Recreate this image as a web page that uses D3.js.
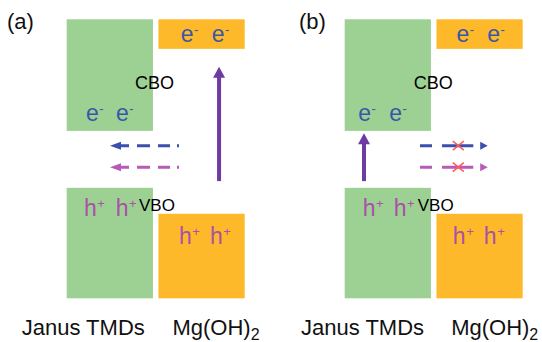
<!DOCTYPE html>
<html><head><meta charset="utf-8">
<script src="https://cdn.jsdelivr.net/npm/d3@7"></script>
<style>body{margin:0;background:#fff} svg{display:block}</style>
</head><body><svg id="c" width="542" height="342"></svg>
<script>
// ---- data ----
const panels = ["(a)", "(b)"];
const materials = ["Janus TMDs", "Mg(OH)2"];
// band edges, energy units (0 = bottom, 100 = top of diagram)
const cbTop    = [100, 100];
const cbBottom = [60, 89.4];
const vbTop    = [39.6, 30.3];
const vbBottom = [0, 0];
// excitation arrow per panel: [material index, from, to]
const excitation = [[1, 42, 83], [0, 42, 59.2]];
// interfacial transfer levels (electron, hole)
const transferLevels = [54.7, 47];
const transferAllowed = [true, false]; // (a) transfer to TMD, (b) blocked
const offsetLabels = ["CBO", "VBO"];

// ---- layout ----
const svg = d3.select("#c");
const y = d3.scaleLinear().domain([0, 100]).range([298.3, 19.3]);
const xp = d3.scaleBand().domain(panels).range([66.7, 522.7]).paddingInner(0.3597);
const xm = d3.scaleBand().domain(materials).range([0, xp.bandwidth()]).paddingInner(0.06);

const COL = {green:"#9dd194", orange:"#fdb92a", eText:"#3a56a8", hText:"#aa50a8",
  purple:"#6e3aa3", blue:"#3b50ad", magenta:"#b85ab6", red:"#ff5a5a"};
const fillFor = [COL.green, COL.orange];
const FONT = "Liberation Sans, Arial, sans-serif";

// per-panel fine offsets
const eDx = [[[19.3, 49.3], [22.3, 53.3]], [[13.6, 44.6], [20, 50.7]]];
const hDx = [[[17.3, 49], [20.6, 51.6]], [[18, 49], [16.4, 47.4]]];
const eLevel = [63.5, 91.7];
const hLevel = [29.5, 19.5];
const labelDx = [[-45, 14], [-43.7, 14.7]];
const cboDx = [68.3, 69], vboDx = [72.3, 73];
const cboLevel = 75, vboLevel = 31.3;
const arrowDx = [60.6, 19.3];

panels.forEach((p, pi) => {
  const g = svg.append("g").attr("transform", `translate(${xp(p)},0)`);
  materials.forEach((m, mi) => {
    g.append("rect").attr("x", xm(m)).attr("width", xm.bandwidth())
      .attr("y", y(cbTop[mi])).attr("height", y(cbBottom[mi]) - y(cbTop[mi]))
      .attr("fill", fillFor[mi]);
    g.append("rect").attr("x", xm(m)).attr("width", xm.bandwidth())
      .attr("y", y(vbTop[mi])).attr("height", y(vbBottom[mi]) - y(vbTop[mi]))
      .attr("fill", fillFor[mi]);
    eDx[pi][mi].forEach(dx => {
      const t = g.append("text").attr("x", xm(m) + dx).attr("y", y(eLevel[mi]))
        .attr("font-family", FONT).attr("font-size", 23).attr("fill", COL.eText).text("e");
      t.append("tspan").attr("dy", -8).attr("dx", 0.5).attr("font-size", 13).text("-");
    });
    hDx[pi][mi].forEach(dx => {
      const t = g.append("text").attr("x", xm(m) + dx).attr("y", y(hLevel[mi]))
        .attr("font-family", FONT).attr("font-size", 23).attr("fill", COL.hText).text("h");
      t.append("tspan").attr("dy", -8).attr("dx", 0.5).attr("font-size", 13).text("+");
    });
    const lab = g.append("text").attr("x", xm(m) + labelDx[pi][mi]).attr("y", 335)
      .attr("font-family", FONT).attr("font-size", 22).attr("fill", "#111");
    if (m === "Mg(OH)2") {
      lab.text("Mg(OH)");
      lab.append("tspan").attr("dy", 5).attr("font-size", 16).text("2");
    } else lab.text(m);
  });
  g.append("text").attr("x", xm(materials[0]) + cboDx[pi]).attr("y", y(cboLevel))
    .attr("font-family", FONT).attr("font-size", 18).attr("fill", "#000").text(offsetLabels[0]);
  g.append("text").attr("x", xm(materials[0]) + vboDx[pi]).attr("y", y(vboLevel))
    .attr("font-family", FONT).attr("font-size", 17).attr("fill", "#000").text(offsetLabels[1]);
  g.append("text").attr("x", pi === 0 ? -59.7 : -45.7).attr("y", 29)
    .attr("font-family", FONT).attr("font-size", 22).attr("fill", "#111").text(p);

  // excitation arrow
  const [emi, e0, e1] = excitation[pi];
  const axx = xm(materials[emi]) + arrowDx[pi];
  g.append("line").attr("x1", axx).attr("x2", axx).attr("y1", y(e0)).attr("y2", y(e1) + 9)
    .attr("stroke", COL.purple).attr("stroke-width", 4);
  g.append("path").attr("d", `M${axx},${y(e1)} L${axx - 6},${y(e1) + 11} L${axx + 6},${y(e1) + 11} Z`)
    .attr("fill", COL.purple);

  // transfer arrows
  const tcol = [COL.blue, COL.magenta];
  transferLevels.forEach((lv, li) => {
    const yy = y(lv);
    if (transferAllowed[pi]) {
      g.append("line").attr("x1", 53.3).attr("x2", 112.3).attr("y1", yy).attr("y2", yy)
        .attr("stroke", tcol[li]).attr("stroke-width", 3)
        .attr("stroke-dasharray", "9,8,13,8,12,7,2");
      g.append("path").attr("d", `M43.3,${yy} L54.3,${yy - 4} L54.3,${yy + 4} Z`).attr("fill", tcol[li]);
    } else {
      g.append("line").attr("x1", 75.3).attr("x2", 128.6).attr("y1", yy).attr("y2", yy)
        .attr("stroke", tcol[li]).attr("stroke-width", 3)
        .attr("stroke-dasharray", "12,10,31.3");
      g.append("path").attr("d", `M143,${yy} L135.5,${yy - 4} L135.5,${yy + 4} Z`).attr("fill", tcol[li]);
      const cx = 113.6;
      g.append("path").attr("d", `M${cx - 5.5},${yy - 4.5} L${cx + 5.5},${yy + 4.5} M${cx - 5.5},${yy + 4.5} L${cx + 5.5},${yy - 4.5}`)
        .attr("stroke", COL.red).attr("stroke-width", 1.5).attr("fill", "none");
    }
  });
});
</script></body></html>
